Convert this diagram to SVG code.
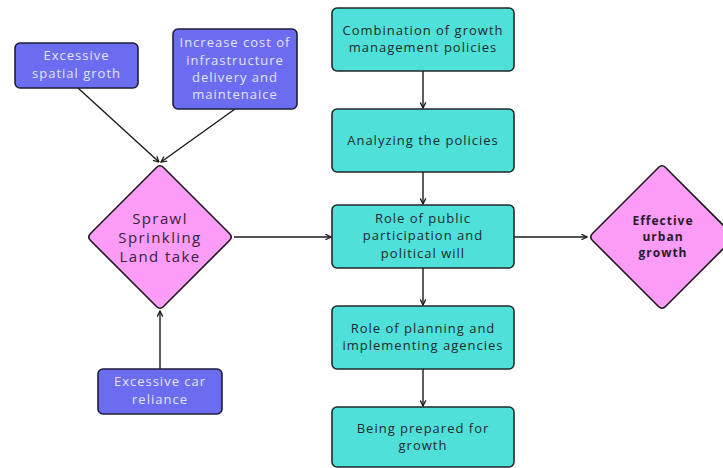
<svg xmlns="http://www.w3.org/2000/svg" width="723" height="468" viewBox="0 0 723 468">
<style>
text{font-family:"Open Sans","Liberation Sans",sans-serif;text-anchor:middle;letter-spacing:1px}
.p rect{fill:#6b6cf0;stroke:#1e1e3a;stroke-width:1.6}
.p text{fill:#e4e4ff;font-size:13px}
.t rect{fill:#4fe0da;stroke:#1f2a2a;stroke-width:1.6}
.t text{fill:#1e2b2b;font-size:13px}
.d path{fill:#fb9cf6;stroke:#1e1a1e;stroke-width:1.6;stroke-linejoin:round}
.s{font-size:15px;fill:#3a1f3a;letter-spacing:1.4px}
.e{font-size:12px;font-weight:bold;fill:#2a1a2a;letter-spacing:1px}
.c line{stroke:#1a1a1a;stroke-width:1.4;marker-end:url(#ah)}
</style>
<defs>
<marker id="ah" viewBox="0 0 10 10" refX="9" refY="5" markerWidth="7" markerHeight="7" markerUnits="userSpaceOnUse" orient="auto">
<path d="M1,1 L9,5 L1,9" fill="none" stroke="#1a1a1a" stroke-width="1.8"/>
</marker>
</defs>
<rect width="723" height="468" fill="#ffffff"/>
<g class="c" id="connectors">
<line x1="78" y1="88" x2="159" y2="162"/>
<line x1="235" y1="109" x2="161" y2="162"/>
<line x1="160" y1="369" x2="160" y2="311"/>
<line x1="234" y1="237" x2="331" y2="237"/>
<line x1="423" y1="71" x2="423" y2="108"/>
<line x1="423" y1="172" x2="423" y2="204"/>
<line x1="423" y1="268" x2="423" y2="305"/>
<line x1="423" y1="369" x2="423" y2="406"/>
<line x1="514" y1="237" x2="587" y2="237"/>
</g>
<g class="p" id="n-spatial"><rect x="15" y="43" width="123" height="45" rx="5"/><text x="76.5" y="60">Excessive</text><text x="76.5" y="78">spatial groth</text></g>
<g class="p" id="n-infra"><rect x="173" y="29" width="124" height="80" rx="5"/><text x="235" y="47">Increase cost of</text><text x="235" y="65">infrastructure</text><text x="235" y="82">delivery and</text><text x="235" y="99">maintenaice</text></g>
<g class="p" id="n-car"><rect x="98" y="369" width="124" height="45" rx="5"/><text x="160" y="386">Excessive car</text><text x="160" y="404">reliance</text></g>
<g class="d" id="n-sprawl"><path d="M163.5,167.5 L229.5,233.5 Q233,237 229.5,240.5 L163.5,306.5 Q160,310 156.5,306.5 L90.5,240.5 Q87,237 90.5,233.5 L156.5,167.5 Q160,164 163.5,167.5 Z"/><text class="s" x="160" y="224">Sprawl</text><text class="s" x="160" y="243">Sprinkling</text><text class="s" x="160" y="262">Land take</text></g>
<g class="d" id="n-effective"><path d="M665.5,167.5 L731.5,233.5 Q735,237 731.5,240.5 L665.5,306.5 Q662,310 658.5,306.5 L592.5,240.5 Q589,237 592.5,233.5 L658.5,167.5 Q662,164 665.5,167.5 Z"/><text class="e" x="663" y="225">Effective</text><text class="e" x="663" y="241">urban</text><text class="e" x="663" y="257">growth</text></g>
<g class="t" id="n-combination"><rect x="332" y="8" width="182" height="63" rx="5"/><text x="423" y="35">Combination of growth</text><text x="423" y="52">management policies</text></g>
<g class="t" id="n-analyzing"><rect x="332" y="109" width="182" height="63" rx="5"/><text x="423" y="145">Analyzing the policies</text></g>
<g class="t" id="n-public"><rect x="332" y="205" width="182" height="63" rx="5"/><text x="423" y="223">Role of public</text><text x="423" y="240">participation and</text><text x="423" y="258">political will</text></g>
<g class="t" id="n-planning"><rect x="332" y="306" width="182" height="63" rx="5"/><text x="423" y="333">Role of planning and</text><text x="423" y="350">implementing agencies</text></g>
<g class="t" id="n-prepared"><rect x="332" y="407" width="182" height="60" rx="5"/><text x="423" y="433">Being prepared for</text><text x="423" y="450">growth</text></g>
</svg>
